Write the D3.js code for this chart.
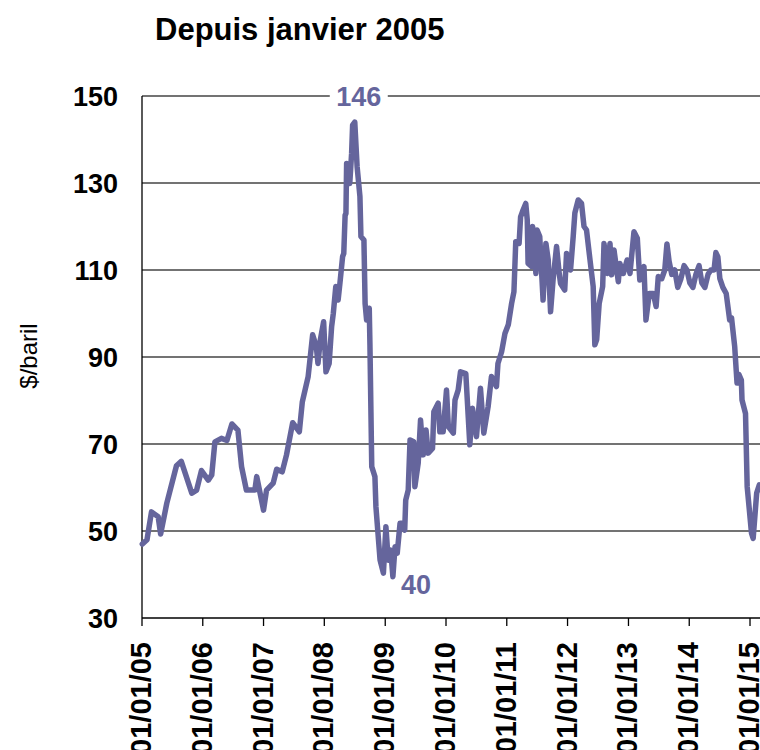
<!DOCTYPE html>
<html>
<head>
<meta charset="utf-8">
<script src="https://cdn.jsdelivr.net/npm/d3@7"></script>
<style>
  body { margin: 0; background: #fff; }
  #chart { width: 760px; height: 750px; }
  text { font-family: "Liberation Sans", Arial, sans-serif; }
</style>
</head>
<body>
<div id="chart"></div>
<script>
// Brent, $/baril, relevés
const dates = [
  "2005-01-03","2005-01-31","2005-02-27","2005-04-08","2005-04-23","2005-05-30","2005-07-27","2005-08-25",
  "2005-10-27","2005-11-25","2005-12-24","2006-02-03","2006-02-24","2006-03-15","2006-04-23","2006-05-26",
  "2006-06-25","2006-07-31","2006-08-22","2006-09-20","2006-11-10","2006-11-21","2007-01-01","2007-01-19",
  "2007-02-28","2007-03-21","2007-04-23","2007-05-19","2007-06-25","2007-08-04","2007-08-22","2007-09-26",
  "2007-10-23","2007-11-14","2007-11-24","2007-12-08","2007-12-28","2008-01-11","2008-01-30","2008-02-14",
  "2008-02-24","2008-03-10","2008-03-24","2008-04-04","2008-04-20","2008-04-27","2008-05-05","2008-05-10",
  "2008-05-14","2008-05-30","2008-06-02","2008-06-13","2008-06-19","2008-07-02","2008-07-16","2008-08-02",
  "2008-08-08","2008-08-26","2008-09-02","2008-09-11","2008-09-27","2008-10-01","2008-10-12","2008-10-31",
  "2008-11-06","2008-12-01","2008-12-21","2009-01-05","2009-01-19","2009-02-03","2009-02-16","2009-03-01",
  "2009-03-14","2009-03-31","2009-04-15","2009-04-28","2009-05-04","2009-05-19","2009-05-30","2009-06-21",
  "2009-06-28","2009-07-18","2009-08-01","2009-08-17","2009-09-03","2009-09-16","2009-10-12","2009-10-20",
  "2009-11-15","2009-11-25","2009-12-15","2010-01-04","2010-01-15","2010-02-14","2010-02-24","2010-03-15",
  "2010-03-29","2010-04-30","2010-05-24","2010-06-09","2010-07-03","2010-07-27","2010-08-16","2010-09-11",
  "2010-10-01","2010-10-31","2010-11-09","2010-12-01","2010-12-21","2011-01-10","2011-01-30","2011-02-13",
  "2011-02-24","2011-03-16","2011-03-25","2011-04-09","2011-04-25","2011-05-04","2011-05-09","2011-05-30",
  "2011-06-05","2011-06-25","2011-07-02","2011-07-18","2011-08-07","2011-08-24","2011-09-07","2011-09-21",
  "2011-10-06","2011-10-27","2011-11-12","2011-11-20","2011-12-15","2011-12-26","2012-01-19","2012-02-04",
  "2012-02-14","2012-03-05","2012-03-25","2012-04-09","2012-04-24","2012-05-15","2012-06-03","2012-06-13",
  "2012-06-24","2012-07-09","2012-07-30","2012-08-07","2012-08-27","2012-09-12","2012-09-22","2012-10-06",
  "2012-11-01","2012-11-10","2012-12-01","2012-12-24","2013-01-10","2013-02-03","2013-02-23","2013-03-10",
  "2013-04-04","2013-04-16","2013-05-06","2013-05-30","2013-06-16","2013-06-29","2013-07-20","2013-08-07",
  "2013-08-20","2013-09-02","2013-09-18","2013-10-06","2013-10-24","2013-11-12","2013-12-01","2013-12-18",
  "2014-01-05","2014-01-23","2014-02-10","2014-03-01","2014-03-18","2014-04-05","2014-04-24","2014-05-11",
  "2014-05-30","2014-06-10","2014-06-22","2014-07-04","2014-07-22","2014-08-11","2014-09-01","2014-09-12",
  "2014-10-01","2014-10-15","2014-10-26","2014-11-10","2014-11-14","2014-12-05","2014-12-15","2015-01-10",
  "2015-01-20","2015-02-10","2015-02-26"
];
const prices = [
  47, 48, 54.4, 53.3, 49.3, 56.4, 65, 66,
  58.7, 59.4, 63.9, 61.7, 62.9, 70.5, 71.3, 70.8,
  74.6, 73.2, 64.8, 59.4, 59.4, 62.5, 54.8, 59.4,
  61, 64.2, 63.6, 67.5, 74.9, 72.8, 79.7, 85.5,
  95.1, 92.4, 88.5, 93.9, 98.1, 86.6, 88.5, 97,
  100, 106.2, 103.1, 107, 113.1, 113.8, 122.6, 123,
  134.5, 133.8, 129.9, 136.8, 143.3, 144, 133.8, 126.9,
  117.7, 116.9, 102.3, 98.5, 101.2, 93.1, 64.8, 62.5,
  55.6, 43.3, 40.3, 51, 43.3, 45.6, 39.5, 46.4,
  44.9, 51.8, 51.8, 50.2, 57.1, 59.4, 70.9, 70.5,
  60.2, 65.6, 75.5, 67.5, 73.2, 67.9, 69, 77.4,
  79.4, 72.8, 72.8, 82.4, 74, 72.5, 80.1, 82.4,
  86.6, 86.2, 69.8, 78.2, 71.7, 82.8, 72.5, 78.6,
  85.5, 83.2, 88.5, 91.2, 95.4, 97.4, 102.3, 105,
  116.5, 116.1, 122.2, 123.8, 125.3, 121.5, 111.5, 110.8,
  120, 109.2, 119.2, 117.7, 103.1, 116.1, 112.3, 100.4,
  107.7, 115.4, 109.2, 106.9, 105.4, 113.8, 110, 117.7,
  123.1, 126.1, 125.3, 120, 119.2, 112.3, 106.2, 92.8,
  94, 102.3, 106.2, 116.1, 109.2, 116.1, 108.9, 114.6,
  107.3, 111.5, 109.2, 112.3, 109.2, 118.8, 117.3, 107.7,
  110.8, 98.5, 104.6, 104.6, 101.6, 108.5, 108, 110,
  116, 112, 109, 110, 106, 108, 111, 110,
  107, 106, 109, 111, 107, 106, 109, 110,
  110, 114, 113, 108, 106, 104.6, 98.5, 99,
  92.4, 84, 86, 84.7, 80.1, 77, 60.2, 49.5,
  48.3, 58.7, 60.6
];
const yTicks = [30, 50, 70, 90, 110, 130, 150];
const xTickLabels = ["01/01/05","01/01/06","01/01/07","01/01/08","01/01/09","01/01/10",
                     "01/01/11","01/01/12","01/01/13","01/01/14","01/01/15"];
const peak = { date: "2008-07-02", label: "146" };
const trough = { date: "2009-02-16", label: "40" };

let w = 760, h = 750;
let lineColor = "#65659c";
let parse = d3.timeParse("%Y-%m-%d");
let data = dates.map((d, i) => ({ date: parse(d), value: prices[i] }));

var svg = d3.select("#chart").append("svg")
    .attr("width", w)
    .attr("height", h);

var x = d3.scaleTime()
    .domain([parse("2005-01-01"), parse("2015-03-02")])
    .range([142, 760]);
var y = d3.scaleLinear().domain([30, 150]).range([618, 96]);

// titre
svg.append("text")
    .attr("x", 155).attr("y", 40)
    .attr("font-size", 31).attr("font-weight", "bold")
    .text("Depuis janvier 2005");

// grille horizontale
svg.append("g").selectAll("line")
  .data(yTicks.slice(1))
  .join("line")
    .attr("x1", 142).attr("x2", w)
    .attr("y1", d => y(d)).attr("y2", d => y(d))
    .attr("stroke", "#444").attr("stroke-width", 1.3);

// libellés de l'axe Y
svg.append("g").selectAll("text")
  .data(yTicks)
  .join("text")
    .attr("x", 118).attr("y", d => y(d))
    .attr("dy", "0.36em")
    .attr("text-anchor", "end")
    .attr("font-size", 27).attr("font-weight", "bold")
    .text(d => d);

svg.append("text")
    .attr("transform", "translate(37,356) rotate(-90)")
    .attr("text-anchor", "middle")
    .attr("font-size", 24)
    .text("$/baril");

// axes
svg.append("line")
    .attr("x1", 142).attr("x2", 142).attr("y1", y(150)).attr("y2", y(30))
    .attr("stroke", "#000").attr("stroke-width", 1.3);
svg.append("line")
    .attr("x1", 142).attr("x2", w).attr("y1", y(30)).attr("y2", y(30))
    .attr("stroke", "#000").attr("stroke-width", 1.3);

let yearTicks = xTickLabels.map(s => d3.timeParse("%d/%m/%y")(s));
svg.append("g").selectAll("line")
  .data(yearTicks)
  .join("line")
    .attr("x1", d => x(d)).attr("x2", d => x(d))
    .attr("y1", y(30)).attr("y2", y(30) + 8)
    .attr("stroke", "#000").attr("stroke-width", 1.3);

svg.append("g").selectAll("text")
  .data(yearTicks)
  .join("text")
    .attr("transform", (d, i) => `translate(${x(d) + 9},642) rotate(-90)`)
    .attr("text-anchor", "end")
    .attr("font-size", 29).attr("font-weight", "bold")
    .text((d, i) => xTickLabels[i]);

// courbe
var line = d3.line()
    .x(d => x(d.date))
    .y(d => y(d.value));

svg.append("path")
    .datum(data)
    .attr("d", line)
    .attr("fill", "none")
    .attr("stroke", lineColor)
    .attr("stroke-width", 5.5)
    .attr("stroke-linejoin", "round")
    .attr("stroke-linecap", "round");

// annotations
let peakX = x(parse(peak.date));
svg.append("rect")
    .attr("x", peakX - 25).attr("y", y(150) - 12)
    .attr("width", 58).attr("height", 22)
    .attr("fill", "#fff");
svg.append("text")
    .attr("x", peakX + 4).attr("y", y(150))
    .attr("dy", "0.36em")
    .attr("text-anchor", "middle")
    .attr("font-size", 27).attr("font-weight", "bold")
    .attr("fill", lineColor)
    .text(peak.label);

svg.append("text")
    .attr("x", x(parse(trough.date)) + 8).attr("y", 594)
    .attr("font-size", 27).attr("font-weight", "bold")
    .attr("fill", lineColor)
    .text(trough.label);
</script>
</body>
</html>
